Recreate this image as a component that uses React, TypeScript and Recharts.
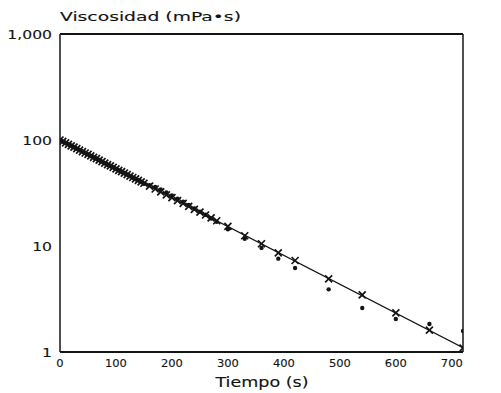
import {
  ComposedChart,
  Line,
  Scatter,
  XAxis,
  YAxis,
  ReferenceLine,
} from "recharts";

// sampling times (s) for the crosses
const crossTimes = [
  0, 5, 10, 15, 20, 25, 30, 35, 40, 45, 50, 55, 60, 65, 70, 75, 80, 85, 90, 95,
  100, 105, 110, 115, 120, 125, 130, 135, 140, 145, 150, 160, 170, 180, 190,
  200, 210, 220, 230, 240, 250, 260, 270, 280, 300, 330, 360, 390, 420, 480,
  540, 600, 660, 720,
];

// crosses (sit on the fitted line)
const crossValues = [
  100, 96.9, 93.9, 91.0, 88.2, 85.5, 82.9, 80.3, 77.8, 75.4, 73.1, 70.9, 68.7,
  66.6, 64.5, 62.5, 60.6, 58.7, 56.9, 55.2, 53.5, 51.8, 50.2, 48.7, 47.2, 45.7,
  44.3, 42.9, 41.6, 40.3, 39.1, 36.7, 34.5, 32.4, 30.4, 28.6, 26.8, 25.2, 23.7,
  22.2, 20.9, 19.6, 18.4, 17.3, 15.3, 12.5, 10.5, 8.6, 7.3, 4.9, 3.46, 2.34,
  1.61, 1.09,
];

// sampling times (s) for the dots
const dotTimes = [
  2.5, 7.5, 12.5, 17.5, 22.5, 27.5, 32.5, 37.5, 42.5, 47.5, 52.5, 57.5, 62.5,
  67.5, 72.5, 77.5, 82.5, 87.5, 92.5, 97.5, 102.5, 107.5, 112.5, 117.5, 122.5,
  127.5, 132.5, 137.5, 142.5, 147.5, 150, 160, 170, 180, 190, 200, 210, 220,
  230, 240, 250, 260, 270, 280, 300, 330, 360, 390, 420, 480, 540, 600, 660,
  720,
];

// dots (second set of readings)
const dotValues = [
  98.4, 95.4, 92.4, 89.6, 86.8, 84.2, 81.6, 79.1, 76.6, 74.2, 72.0, 69.8, 67.6,
  65.6, 63.5, 61.5, 59.7, 57.8, 56.0, 54.3, 52.7, 51.0, 49.4, 47.9, 46.5, 45.0,
  43.6, 42.2, 41.0, 39.7, 38.7, 37.5, 36.0, 34.2, 32.0, 30.0, 28.0, 26.2, 24.4,
  22.6, 21.1, 19.7, 18.2, 16.9, 14.4, 11.7, 9.6, 7.6, 6.2, 3.9, 2.6, 2.05,
  1.84, 1.58,
];

// fitted line end points
const fitTimes = [0, 720];
const fitValues = [100, 1.1];

const yTicks = [1, 10, 100, 1000];
const xTicks = [0, 100, 200, 300, 400, 500, 600, 700];

const FONT = "DejaVu Sans";
const INK = "#141414";

const crossData = crossTimes.map((t, i) => ({ t, v: crossValues[i] }));
const dotData = dotTimes.map((t, i) => ({ t, v: dotValues[i] }));
const fitData = fitTimes.map((t, i) => ({ t, v: fitValues[i] }));

const YTick = (props: any) => {
  const { x, y, payload } = props;
  return (
    <g transform={`translate(${x},${y})`}>
      <text
        transform="scale(1.3,1)"
        textAnchor="end"
        dy={4.5}
        fontSize={12}
        fontFamily={FONT}
        fill={INK}
        stroke={INK}
        strokeWidth={0.12}
      >
        {Number(payload.value).toLocaleString("en-US")}
      </text>
    </g>
  );
};

const XTick = (props: any) => {
  const { x, y, payload } = props;
  return (
    <g transform={`translate(${x},${y})`}>
      <text
        transform="scale(1.15,1)"
        textAnchor="middle"
        dy={15}
        fontSize={10}
        fontFamily={FONT}
        fill={INK}
        stroke={INK}
        strokeWidth={0.12}
      >
        {payload.value}
      </text>
    </g>
  );
};

const Cross = (props: any) => {
  const { cx, cy } = props;
  if (cx == null || cy == null) return null;
  const s = 3.5;
  return (
    <g stroke={INK} strokeWidth={1.7}>
      <line x1={cx - s} y1={cy - s} x2={cx + s} y2={cy + s} />
      <line x1={cx - s} y1={cy + s} x2={cx + s} y2={cy - s} />
    </g>
  );
};

const Dot = (props: any) => {
  const { cx, cy } = props;
  if (cx == null || cy == null) return null;
  return <circle cx={cx} cy={cy} r={2.2} fill={INK} />;
};

export default function App() {
  return (
    <div
      style={{
        position: "absolute",
        left: 0,
        top: 0,
        width: 501,
        height: 393,
        background: "#fff",
      }}
    >
      <ComposedChart
        width={501}
        height={393}
        margin={{ top: 34, right: 38, bottom: 0, left: 0 }}
      >
        <XAxis
          xAxisId="bottom"
          dataKey="t"
          type="number"
          domain={[0, 720]}
          ticks={xTicks}
          allowDataOverflow
          height={41}
          tickSize={0}
          tickMargin={0}
          tickLine={false}
          tick={<XTick />}
          axisLine={{ stroke: INK, strokeWidth: 2 }}
          label={{
            content: () => (
              <text
                x={262}
                y={387}
                transform="translate(262,0) scale(1.3,1) translate(-262,0)"
                textAnchor="middle"
                fontSize={13.5}
                fontFamily={FONT}
                fill={INK}
                stroke={INK}
                strokeWidth={0.12}
              >
                Tiempo (s)
              </text>
            ),
          }}
        />
        <YAxis
          yAxisId="left"
          dataKey="v"
          scale="log"
          domain={[1, 1000]}
          ticks={yTicks}
          allowDataOverflow
          width={60}
          tickSize={0}
          tickMargin={8}
          tickLine={false}
          tick={<YTick />}
          axisLine={{ stroke: INK, strokeWidth: 1.5 }}
          label={{
            content: () => (
              <text
                x={60}
                y={21}
                transform="translate(60,0) scale(1.5,1) translate(-60,0)"
                textAnchor="start"
                fontSize={12.5}
                fontFamily={FONT}
                fill={INK}
                stroke={INK}
                strokeWidth={0.12}
              >
                Viscosidad (mPa•s)
              </text>
            ),
          }}
        />
        {/* frame: top and right edges */}
        <ReferenceLine
          xAxisId="bottom"
          yAxisId="left"
          y={1000}
          stroke={INK}
          strokeWidth={2}
        />
        <ReferenceLine
          xAxisId="bottom"
          yAxisId="left"
          x={720}
          stroke={INK}
          strokeWidth={1.5}
        />
        <Line
          xAxisId="bottom"
          yAxisId="left"
          data={fitData}
          dataKey="v"
          type="linear"
          stroke={INK}
          strokeWidth={1.3}
          dot={false}
          activeDot={false}
          isAnimationActive={false}
        />
        <Scatter
          xAxisId="bottom"
          yAxisId="left"
          data={dotData}
          dataKey="v"
          shape={<Dot />}
          isAnimationActive={false}
        />
        <Scatter
          xAxisId="bottom"
          yAxisId="left"
          data={crossData}
          dataKey="v"
          shape={<Cross />}
          isAnimationActive={false}
        />
      </ComposedChart>
    </div>
  );
}
